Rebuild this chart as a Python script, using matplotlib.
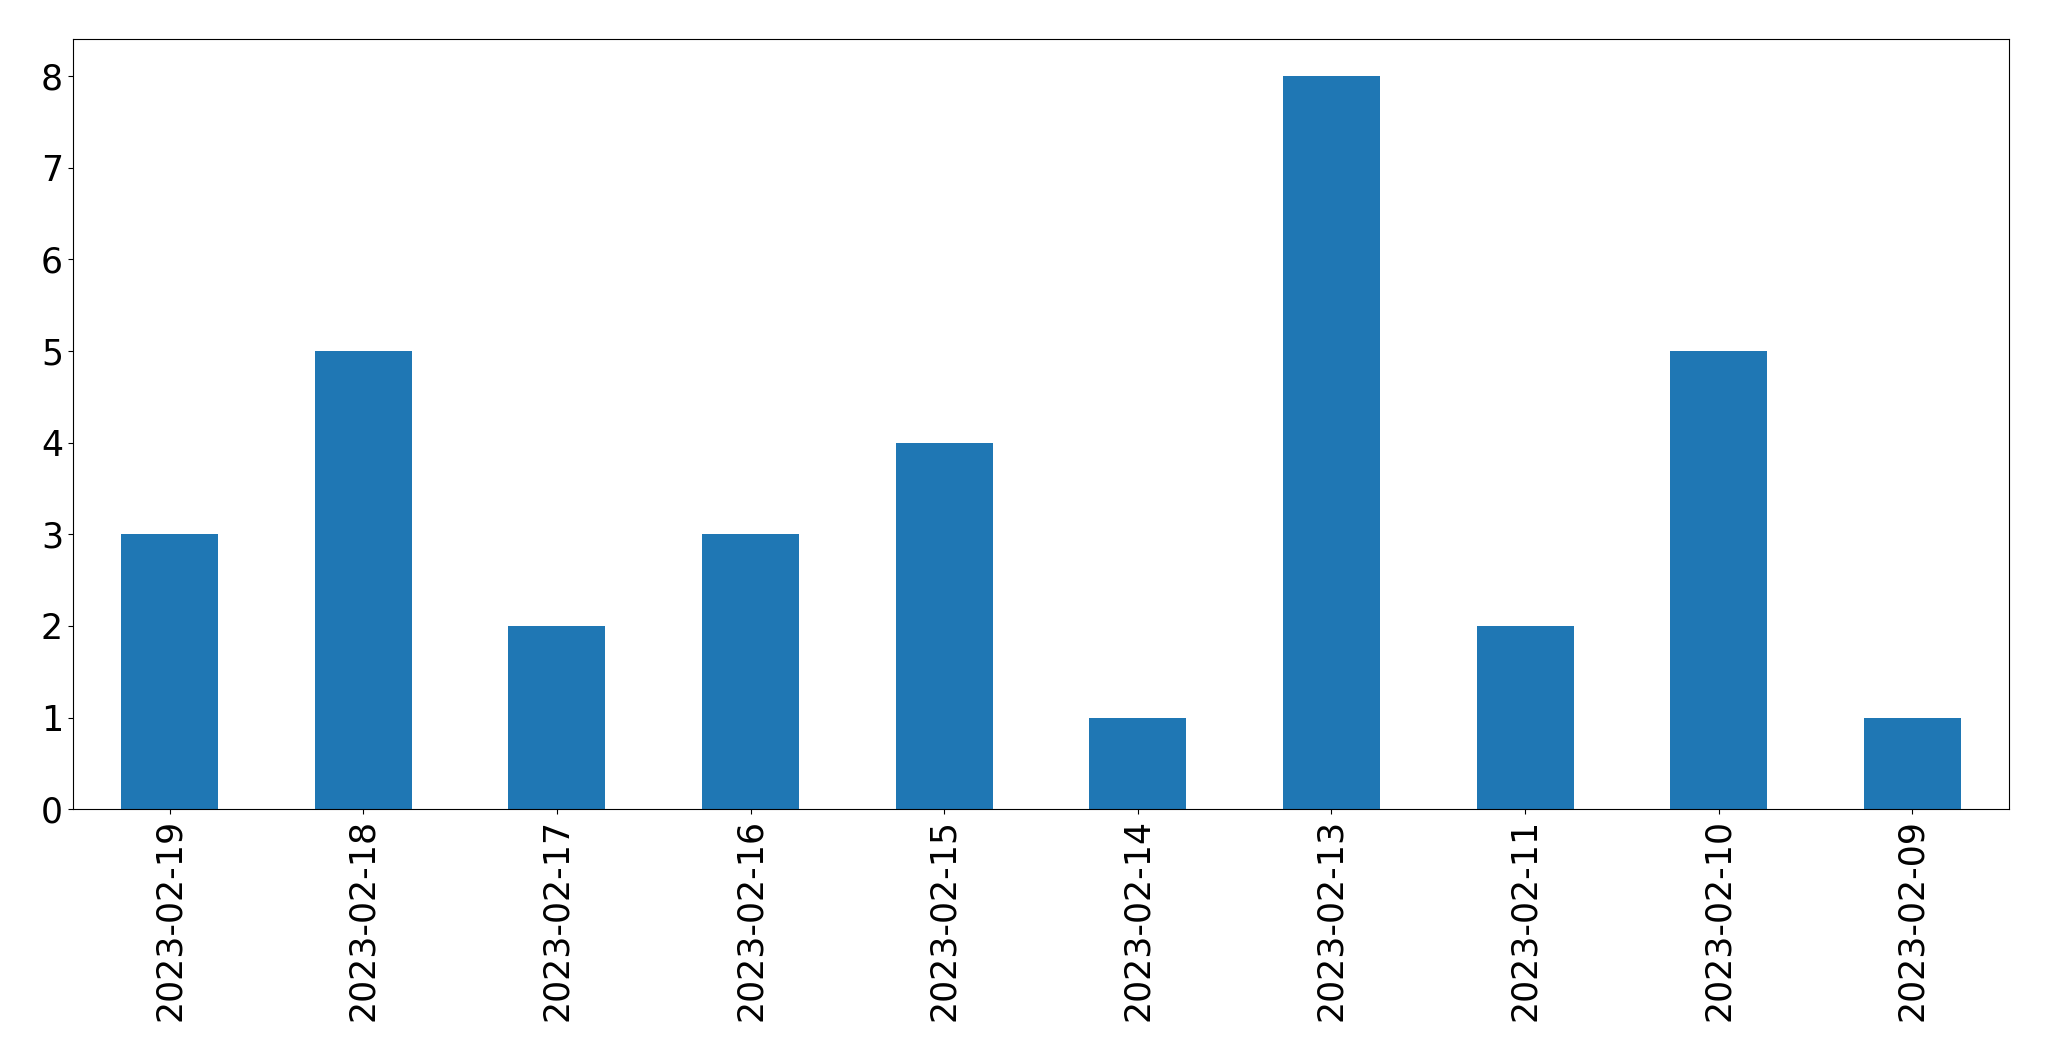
import matplotlib
matplotlib.use('Agg')
import pandas as pd
import matplotlib.pyplot as plt

dates = ['2023-02-19', '2023-02-18', '2023-02-17', '2023-02-16', '2023-02-15',
         '2023-02-14', '2023-02-13', '2023-02-11', '2023-02-10', '2023-02-09']
counts = [3, 5, 2, 3, 4, 1, 8, 2, 5, 1]

W, H = 2049, 1061
fig = plt.figure(figsize=(W / 100, H / 100), dpi=100)
ax = fig.add_axes([72.7 / W, (H - 809.3) / H, (2009.3 - 72.7) / W, (809.3 - 39.3) / H])

s = pd.Series(counts, index=dates)
s.plot(kind='bar', ax=ax, fontsize=25, color='#1f77b4')
ax.set_xlim(-0.5, len(dates) - 0.5)
ax.set_ylim(0, 8.4)

plt.savefig('out.png', dpi=100)
